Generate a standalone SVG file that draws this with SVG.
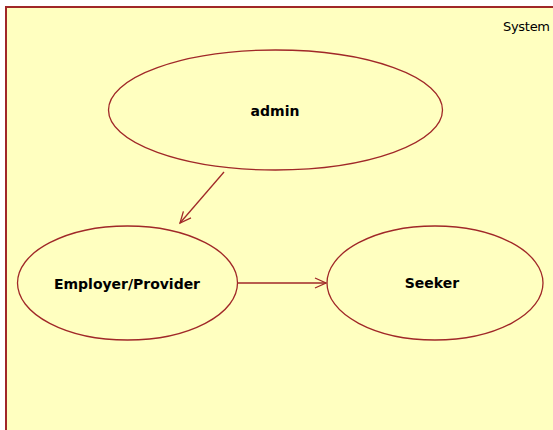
<svg xmlns="http://www.w3.org/2000/svg" width="553" height="430" viewBox="0 0 553 430">
<style>
.uc{fill:#FFFFC0;stroke:#A02828;stroke-width:1.3}
.lbl{font-family:"DejaVu Sans","Liberation Sans",sans-serif;font-weight:bold;font-size:14px;fill:#000;text-anchor:middle;dominant-baseline:central}
.edge{stroke:#A02828;stroke-width:1.3;fill:none}
</style>
<defs>
<marker id="arr" markerWidth="14" markerHeight="14" refX="12" refY="6" orient="auto" markerUnits="userSpaceOnUse">
<path d="M1,1 L12,6 L1,11" fill="none" stroke="#A02828" stroke-width="1.3"/>
</marker>
</defs>
<rect x="0" y="0" width="553" height="430" fill="#fff"/>
<g id="system">
<rect x="6" y="7" width="560" height="440" fill="#FFFFC0" stroke="#A02828" stroke-width="2"/>
<text x="550" y="31" font-family="DejaVu Sans,sans-serif" font-size="13" text-anchor="end" fill="#000" textLength="47">System</text>
</g>
<g id="admin">
<ellipse class="uc" cx="275.5" cy="110" rx="167" ry="60"/>
<text class="lbl" x="275" y="111">admin</text>
</g>
<g id="employer">
<ellipse class="uc" cx="127.5" cy="283" rx="110" ry="57"/>
<text class="lbl" x="127" y="284" textLength="146">Employer/Provider</text>
</g>
<g id="seeker">
<ellipse class="uc" cx="435" cy="283" rx="108" ry="57"/>
<text class="lbl" x="432" y="283">Seeker</text>
</g>
<g id="connectors">
<line class="edge" x1="224" y1="172" x2="180" y2="223" marker-end="url(#arr)"/>
<line class="edge" x1="238" y1="283" x2="326" y2="283" marker-end="url(#arr)"/>
</g>
</svg>
